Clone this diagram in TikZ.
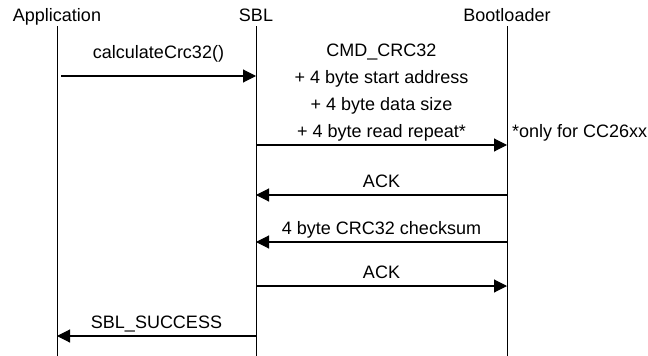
\documentclass[tikz,border=0pt]{standalone}
\usepackage{fontspec}
\setmainfont{Liberation Sans}
\usetikzlibrary{arrows.meta}

\begin{document}
\begin{tikzpicture}[x=1pt,y=-1pt,
    lifeline/.style={draw=black, line width=0.8pt},
    msg/.style={draw=black, line width=1.1pt, -{Triangle[length=13pt,width=13pt]}},
    msglabel/.style={midway, above=3pt, text depth=4pt}]
    \tikzstyle{every node}+=[inner sep=0pt, font=\fontsize{18}{21}\selectfont]
    \useasboundingbox (0,0) rectangle (648,356);
    \node [anchor=base] (app) at (57,21) {Application};
    \node [anchor=base] (sbl) at (256,21) {SBL};
    \node [anchor=base] (boot) at (507,21) {Bootloader};
    \coordinate (bottom) at (0,356);
    \foreach \p in {app,sbl,boot}
        \draw [lifeline] ([yshift=-5pt]\p.base) -- (\p.base |- bottom);
    \coordinate (r1) at (0,76);
    \coordinate (r2) at (0,145);
    \coordinate (r3) at (0,195);
    \coordinate (r4) at (0,242);
    \coordinate (r5) at (0,286);
    \coordinate (r6) at (0,336);
    \draw [msg] ([xshift=4pt]app |- r1) -- (sbl |- r1) node [msglabel, above=10pt] (calc) {calculateCrc32()};
    \draw [msg] (sbl |- r2) -- (boot |- r2) node [msglabel, align=center, font=\fontsize{18}{27}\selectfont] (cmd)
        {CMD\_CRC32\\+ 4 byte start address\\+ 4 byte data size\\+ 4 byte read repeat*};
    \node [anchor=base west] (note) at ([xshift=5pt,yshift=8pt]boot |- r2) {*only for CC26xx};
    \draw [msg] (boot |- r3) -- (sbl |- r3) node [msglabel] (ack1) {ACK};
    \draw [msg] (boot |- r4) -- (sbl |- r4) node [msglabel] (crc) {4 byte CRC32 checksum};
    \draw [msg] (sbl |- r5) -- (boot |- r5) node [msglabel] (ack2) {ACK};
    \draw [msg] (sbl |- r6) -- (app |- r6) node [msglabel] (done) {SBL\_SUCCESS};
\end{tikzpicture}
\end{document}
